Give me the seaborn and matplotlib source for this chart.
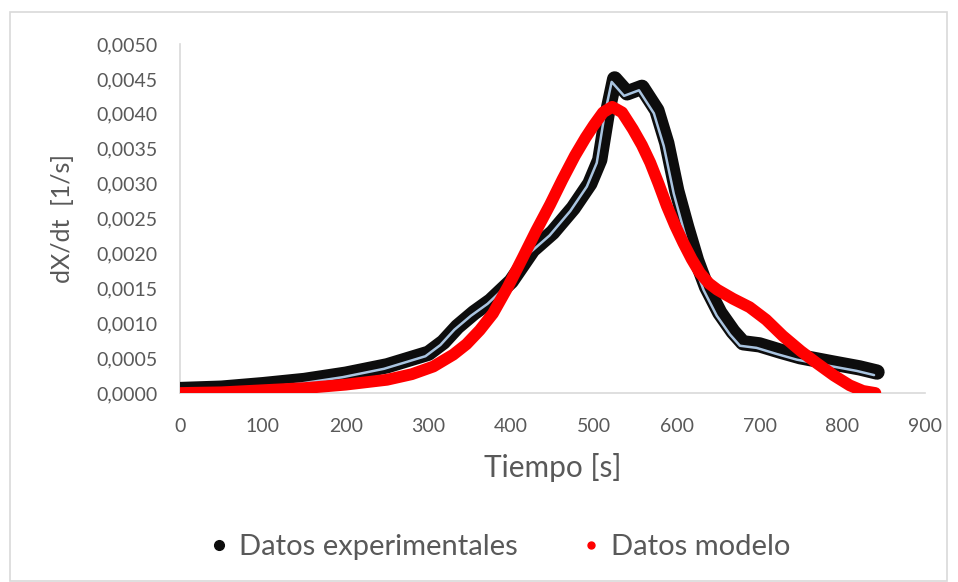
import matplotlib
matplotlib.use("Agg")
import matplotlib.pyplot as plt
from matplotlib.lines import Line2D
from matplotlib.patches import Rectangle
from matplotlib.ticker import FuncFormatter, MultipleLocator
import matplotlib.transforms as mtransforms
import pandas as pd
import seaborn as sns

# Experimental conversion rate
exp_time = [0, 50, 100, 150, 200, 250, 300, 318, 335, 355, 375, 400, 426, 450,
            475, 495, 507, 516, 525, 540, 558, 576, 588, 600, 612, 624, 636,
            652, 668, 680, 700, 725, 749, 789, 821, 842]
exp_rate = [0.00005, 0.00007, 0.00012, 0.00018, 0.00027, 0.00039, 0.00057,
            0.00073, 0.00095, 0.00115, 0.00132, 0.00160, 0.00205, 0.00230,
            0.00265, 0.00300, 0.00334, 0.00400, 0.00450, 0.00430, 0.00438,
            0.00405, 0.00358, 0.00290, 0.00238, 0.00190, 0.00152, 0.00115,
            0.00088, 0.00072, 0.00069, 0.00060, 0.00052, 0.00043, 0.00036,
            0.00030]

# Model conversion rate
mod_time = [0, 50, 100, 150, 200, 250, 280, 306, 330, 346, 362, 378, 396, 414,
            430, 447, 462, 477, 490, 500, 511, 522, 534, 547, 558, 568, 578,
            588, 598, 608, 618, 628, 639, 649, 668, 688, 708, 728, 750, 769,
            790, 809, 825, 840]
mod_rate = [0.00000, 0.00001, 0.00004, 0.00007, 0.00012, 0.00019, 0.00027,
            0.00038, 0.00055, 0.00070, 0.00090, 0.00114, 0.00152, 0.00194,
            0.00232, 0.00270, 0.00306, 0.00340, 0.00366, 0.00384, 0.00402,
            0.00410, 0.00402, 0.00378, 0.00355, 0.00330, 0.00300, 0.00268,
            0.00240, 0.00215, 0.00192, 0.00172, 0.00157, 0.00148, 0.00135,
            0.00123, 0.00105, 0.00082, 0.00060, 0.00043, 0.00025, 0.00011,
            0.00003, 0.00000]

series_names = ["Datos experimentales", "Datos modelo"]

sns.set_style("white")
plt.rcParams["font.family"] = ["Lato", "DejaVu Sans"]

grey = "#595959"
axis_grey = "#d9d9d9"

df_exp = pd.DataFrame({"t": exp_time, "r": exp_rate})
df_mod = pd.DataFrame({"t": mod_time, "r": mod_rate})

fig = plt.figure(figsize=(9.58, 5.82), dpi=100)
ax = fig.add_axes([0.188, 0.3247, 0.7776, 0.5997])

# experimental band: dark body with a pale highlight
sns.lineplot(data=df_exp, x="t", y="r", ax=ax, color="#0d0d0d", lw=11,
             solid_capstyle="round", solid_joinstyle="round", zorder=3)
shift = mtransforms.offset_copy(ax.transData, fig=fig, x=-3, y=-3, units="dots")
sns.lineplot(data=df_exp, x="t", y="r", ax=ax, color="#a9c4e0", lw=1.8,
             zorder=4, transform=shift)
sns.lineplot(data=df_mod, x="t", y="r", ax=ax, color="#ff0000", lw=8.5,
             solid_capstyle="round", solid_joinstyle="round", zorder=5)

ax.set_xlim(0, 900)
ax.set_ylim(0, 0.005)
ax.xaxis.set_major_locator(MultipleLocator(100))
ax.yaxis.set_major_locator(MultipleLocator(0.0005))
ax.yaxis.set_major_formatter(FuncFormatter(lambda v, p: f"{v:.4f}".replace(".", ",")))

for side in ["top", "right"]:
    ax.spines[side].set_visible(False)
for side in ["left", "bottom"]:
    ax.spines[side].set_color(axis_grey)
    ax.spines[side].set_linewidth(1.2)
ax.tick_params(axis="both", length=0, labelsize=14, colors=grey)
ax.tick_params(axis="x", pad=18)
ax.tick_params(axis="y", pad=16)

ax.set_xlabel("Tiempo [s]", fontsize=21.5, color=grey, labelpad=13)
ax.set_ylabel("dX/dt  [1/s]", fontsize=18, color=grey, labelpad=16)

handles = [
    Line2D([], [], ls="none", marker="o", markersize=7, color="#0d0d0d",
           markeredgecolor="#0d0d0d"),
    Line2D([], [], ls="none", marker="o", markersize=5, color="#ff0000"),
]
fig.legend(handles, series_names, loc="center", bbox_to_anchor=(0.519, 0.06),
           ncol=2, frameon=False, fontsize=21, labelcolor=grey,
           handletextpad=0.2, columnspacing=2.0, handlelength=1.0)

fig.patches.append(Rectangle((10 / 958, 0.002), 937 / 958, 1 - 12 / 582 - 0.002,
                             transform=fig.transFigure, fill=False,
                             edgecolor=axis_grey, lw=1.2))

fig.savefig("out.png", dpi=100, facecolor="white")
